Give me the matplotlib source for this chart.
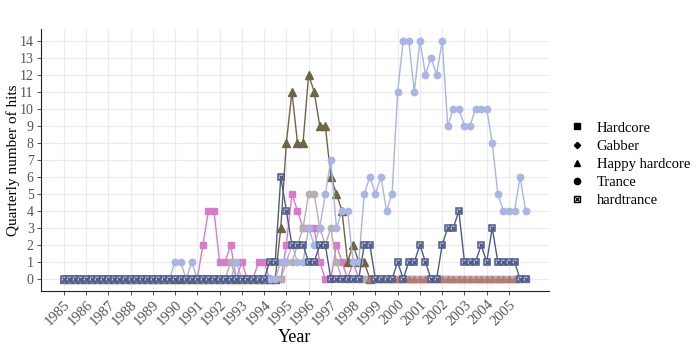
import numpy as np
import matplotlib
matplotlib.use("Agg")
import matplotlib.pyplot as plt
from matplotlib.lines import Line2D
from matplotlib.legend_handler import HandlerTuple

plt.rcParams['font.family'] = ['Liberation Serif', 'DejaVu Serif']

# quarterly time axis 1985 Q1 .. 2005 Q4
quarters = 1985 + np.arange(84) / 4.0

hardcore = [0]*25 + [2, 4, 4, 1, 1, 2, 0, 1, 0, 0, 1, 1, 0, 0, 0, 2, 5, 4, 3, 3, 3, 1, 0, 0, 2, 1, 0, 1, 0] + [0]*30
gabber = [0]*30 + [1] + [0]*9 + [1, 1, 2, 3, 5, 5, 3, 2, 3, 1, 0] + [0]*33
happy = [0]*39 + [3, 8, 11, 8, 8, 12, 11, 9, 9, 6, 5, 4, 1, 2, 1, 1, 0]
happy_tail = [0]*27  # q55..q81 (drawn in reddish)
trance = ([0]*20 + [1, 1, 0, 1] + [0]*7 + [1] + [0]*7 +
          [1, 1, 2, 1, 1, 3, 2, 3, 5, 7, 3, 4, 4, 1, 1, 5, 6, 5, 6, 4, 5,
           11, 14, 14, 11, 14, 12, 13, 12, 14, 9, 10, 10, 9, 9, 10, 10, 10, 8, 5, 4, 4, 4, 6, 4])
hardtrance = ([0]*37 + [1, 1, 6, 4, 2, 2, 2, 1, 1, 2, 2, 0, 0, 0, 0, 0, 0, 2, 2, 0, 0, 0, 0,
               1, 0, 1, 1, 2, 1, 0, 0, 2, 3, 3, 4, 1, 1, 1, 2, 1, 3, 1, 1, 1, 1, 0, 0])

labels = ["Hardcore", "Gabber", "Happy hardcore", "Trance", "hardtrance"]
years = list(range(1985, 2006))

c_hard = "#d77cc8"
c_gab = "#b5b0ae"
c_happy = "#6e6549"
c_tail = "#b57a72"
c_trance = "#a9b5e2"
c_ht = "#4e5a86"

fig = plt.figure(figsize=(7.0, 3.49), dpi=100)
ax = fig.add_axes([0.058, 0.1665, 0.726, 0.751])

lw = 1.0
ms = 4.6
ax.plot(quarters, hardcore, color=c_hard, lw=lw, marker='s', ms=ms, zorder=3)
ax.plot(quarters, gabber, color=c_gab, lw=lw, marker='o', ms=ms, zorder=3)
ax.plot(quarters[:len(happy)], happy, color=c_happy, lw=lw, marker='^', ms=ms + 0.5, zorder=3)
ax.plot(quarters[55:55 + len(happy_tail)], happy_tail, color=c_tail, lw=lw, marker='^', ms=ms, zorder=3)
ax.plot(quarters, trance, color=c_trance, lw=lw, marker='o', ms=ms, zorder=3)
ax.plot(quarters, hardtrance, color=c_ht, lw=lw, marker='s', ms=ms + 0.3,
        markerfacecolor="#c9d0ef", markeredgecolor=c_ht, markeredgewidth=1.1, zorder=4)
ax.plot(quarters, hardtrance, color=c_ht, lw=0, marker='x', ms=ms - 1.3,
        markeredgewidth=1.0, zorder=5)

ax.set_xlim(1983.96, 2006.79)
ax.set_ylim(-0.7, 14.7)
ax.set_xticks(years)
ax.set_xticklabels([str(y) for y in years], rotation=45, ha='right', va='top',
                   rotation_mode='anchor', fontsize=10.5, color='#555555')
ax.set_yticks(range(0, 15))
ax.set_yticklabels([str(v) for v in range(0, 15)], fontsize=10, color='#555555')
ax.tick_params(axis='both', length=3, width=0.6, color='#333333', pad=2)
ax.grid(True, color='#ebebeb', lw=0.8, zorder=0)
ax.set_axisbelow(True)
for s in ['top', 'right']:
    ax.spines[s].set_visible(False)
for s in ['left', 'bottom']:
    ax.spines[s].set_linewidth(0.8)
    ax.spines[s].set_color('#222222')

ax.set_xlabel("Year", fontsize=13, labelpad=1)
ax.set_ylabel("Quarterly number of hits", fontsize=11)
ax.yaxis.set_label_coords(-0.041, 0.5)

handles = [
    Line2D([], [], ls='None', marker='s', color='black', ms=4.5),
    Line2D([], [], ls='None', marker='D', color='black', ms=3.2),
    Line2D([], [], ls='None', marker='^', color='black', ms=5),
    Line2D([], [], ls='None', marker='o', color='black', ms=4.5),
    (Line2D([], [], ls='None', marker='s', color='black', mfc='white', ms=5, mew=1.0),
     Line2D([], [], ls='None', marker='x', color='black', ms=3.5, mew=0.9)),
]
leg = fig.legend(handles, labels, loc='center left', bbox_to_anchor=(0.795, 0.53),
                 frameon=False, fontsize=10.5, handlelength=1.0, handletextpad=0.85,
                 labelspacing=0.33, handler_map={tuple: HandlerTuple(ndivide=1, pad=0)})

fig.savefig("out.png", dpi=100)
